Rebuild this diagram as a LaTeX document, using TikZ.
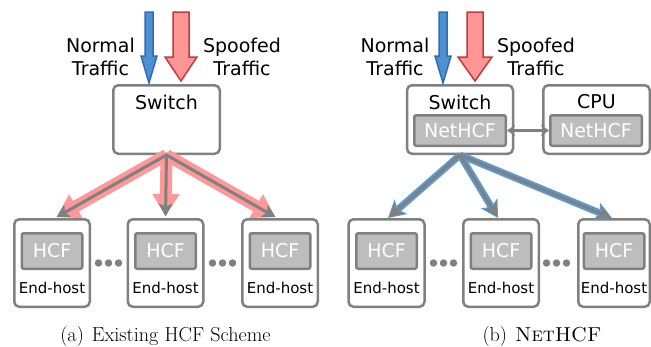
\documentclass[tikz,border=0pt]{standalone}
\usepackage{fontspec}
\setsansfont{DejaVu Sans}
\usetikzlibrary{arrows.meta}
\definecolor{gline}{HTML}{808080}
\definecolor{gfill}{HTML}{BDBDBD}
\definecolor{bfill}{HTML}{4F90D2}
\definecolor{bdraw}{HTML}{2D6DB2}
\definecolor{rfill}{HTML}{FF9696}
\definecolor{rdraw}{HTML}{C4393B}
\definecolor{pinkl}{HTML}{FF9999}
\definecolor{bluel}{HTML}{5B9BD5}
\begin{document}
\begin{tikzpicture}[x=1pt,y=-1pt,
  box/.style={draw=gline, line width=2.5pt, rounded corners=5pt, fill=white, inner sep=0pt},
  innerbox/.style={draw=gline, line width=2.5pt, rounded corners=2pt, fill=gfill, text=white,
    font=\sffamily\fontsize{19}{22}\selectfont, inner sep=0pt, minimum height=30.5pt},
  lbl/.style={font=\sffamily\fontsize{19}{23}\selectfont, inner sep=0pt, align=center},
  small/.style={font=\sffamily\fontsize{15}{18}\selectfont, inner sep=0pt},
  dotc/.style={circle, fill=gline, minimum size=7.5pt, inner sep=0pt},
  captxt/.style={font=\fontsize{20.2}{24}\selectfont, inner sep=0pt},
  pinkpath/.style={pinkl, line width=12pt, shorten >=2pt, -{Triangle[length=22pt,width=26pt]}},
  bluepath/.style={bluel, line width=7pt, -{Stealth[length=17pt,width=19pt,inset=4pt]}},
  graypath/.style={gline, line width=3pt, shorten >=1.5pt, -{Stealth[length=13pt,width=14pt,inset=3pt]}},
  trafficN/.style={draw=bdraw, fill=bfill, line width=1.5pt, line join=miter},
  trafficS/.style={draw=rdraw, fill=rfill, line width=1.5pt, line join=miter}
]
\useasboundingbox (0,0) rectangle (651,346);

% ---------------- panel (a) ----------------
\node[box, minimum width=106.5pt, minimum height=68.5pt] (sw1) at (166.5,119.5) {};
\node[lbl] (sw1t) at (166.5,102) {Switch};

\foreach \n/\x in {e1/52, e2/165.5, e3/280}{
  \node[box, minimum width=75.5pt, minimum height=87.5pt] (\n) at (\x,263) {};
  \node[innerbox, minimum width=60.5pt, minimum height=35.5pt] (\n h) at (\x,251) {HCF};
  \node[small] (\n t) at (\x,288) {End-host};
}
\foreach \n/\x in {d1/98.5, d2/108.5, d3/118.5, d4/212.5, d5/222.5, d6/232.5}{
  \node[dotc] (\n) at (\x,263) {};
}

\draw[pinkpath] (sw1.south) -- ([xshift=3pt]e1.north);
\draw[pinkpath] (sw1.south) -- (e2.north);
\draw[pinkpath] (sw1.south) -- ([xshift=-3pt]e3.north);
\draw[graypath] (sw1.south) -- ([xshift=3pt]e1.north);
\draw[graypath] (sw1.south) -- (e2.north);
\draw[graypath] (sw1.south) -- ([xshift=-3pt]e3.north);

\draw[trafficN] (145,12) -- (153,12) -- (153,56) -- (157,56) -- (149,83) -- (141,56) -- (145,56) -- cycle;
\draw[trafficS] (173,12) -- (189,12) -- (189,57) -- (197,57) -- (181,81) -- (165,57) -- (173,57) -- cycle;
\node[lbl] (n1) at (100.5,56.5) {Normal\\Traffic};
\node[lbl] (s1) at (242,56.5) {Spoofed\\Traffic};

\node[captxt] (capa) at (165.5,336) {(a)\hspace{8pt}Existing HCF Scheme};

% ---------------- panel (b) ----------------
\node[box, minimum width=106pt, minimum height=68.5pt] (sw2) at (460,119.5) {};
\node[lbl] (sw2t) at (460,102) {Switch};
\node[innerbox, minimum width=91.5pt] (ns) at (460,130.5) {NetHCF};
\node[box, minimum width=106.5pt, minimum height=68.5pt] (cpu) at (596.5,119.5) {};
\node[lbl] (cput) at (596.5,102) {CPU};
\node[innerbox, minimum width=91.5pt] (nc) at (596,130.5) {NetHCF};
\draw[gline, line width=2.5pt, {Stealth[length=8pt,width=11pt]}-{Stealth[length=8pt,width=11pt]}] (ns.east) -- (nc.west);

\foreach \n/\x/\w in {f1/386.5/76, f2/501/75.5, f3/614/71.5}{
  \node[box, minimum width=\w pt, minimum height=87.5pt] (\n) at (\x,263) {};
  \node[innerbox, minimum width=60.5pt, minimum height=35.5pt] (\n h) at (\x,251) {HCF};
  \node[small] (\n t) at (\x,288) {End-host};
}
\foreach \n/\x in {g1/433.5, g2/443.5, g3/453.5, g4/546.5, g5/556.5, g6/566.5}{
  \node[dotc] (\n) at (\x,263) {};
}

\draw[bluepath] (sw2.south) -- ([xshift=1.5pt]f1.north);
\draw[bluepath] (sw2.south) -- ([xshift=-3pt]f2.north);
\draw[bluepath] (sw2.south) -- ([xshift=-2pt]f3.north);
\draw[graypath] (sw2.south) -- ([xshift=1.5pt]f1.north);
\draw[graypath] (sw2.south) -- ([xshift=-3pt]f2.north);
\draw[graypath] (sw2.south) -- ([xshift=-2pt]f3.north);

\draw[trafficN] (439,12) -- (447,12) -- (447,56) -- (451,56) -- (443,83) -- (435,56) -- (439,56) -- cycle;
\draw[trafficS] (467,12) -- (483,12) -- (483,57) -- (492,57) -- (475,81) -- (458,57) -- (467,57) -- cycle;
\node[lbl] (n2) at (395,56.5) {Normal\\Traffic};
\node[lbl] (s2) at (536,56.5) {Spoofed\\Traffic};

\node[captxt] (capb) at (542,336) {(b)\hspace{8pt}\textsc{NetHCF}};
\end{tikzpicture}
\end{document}
